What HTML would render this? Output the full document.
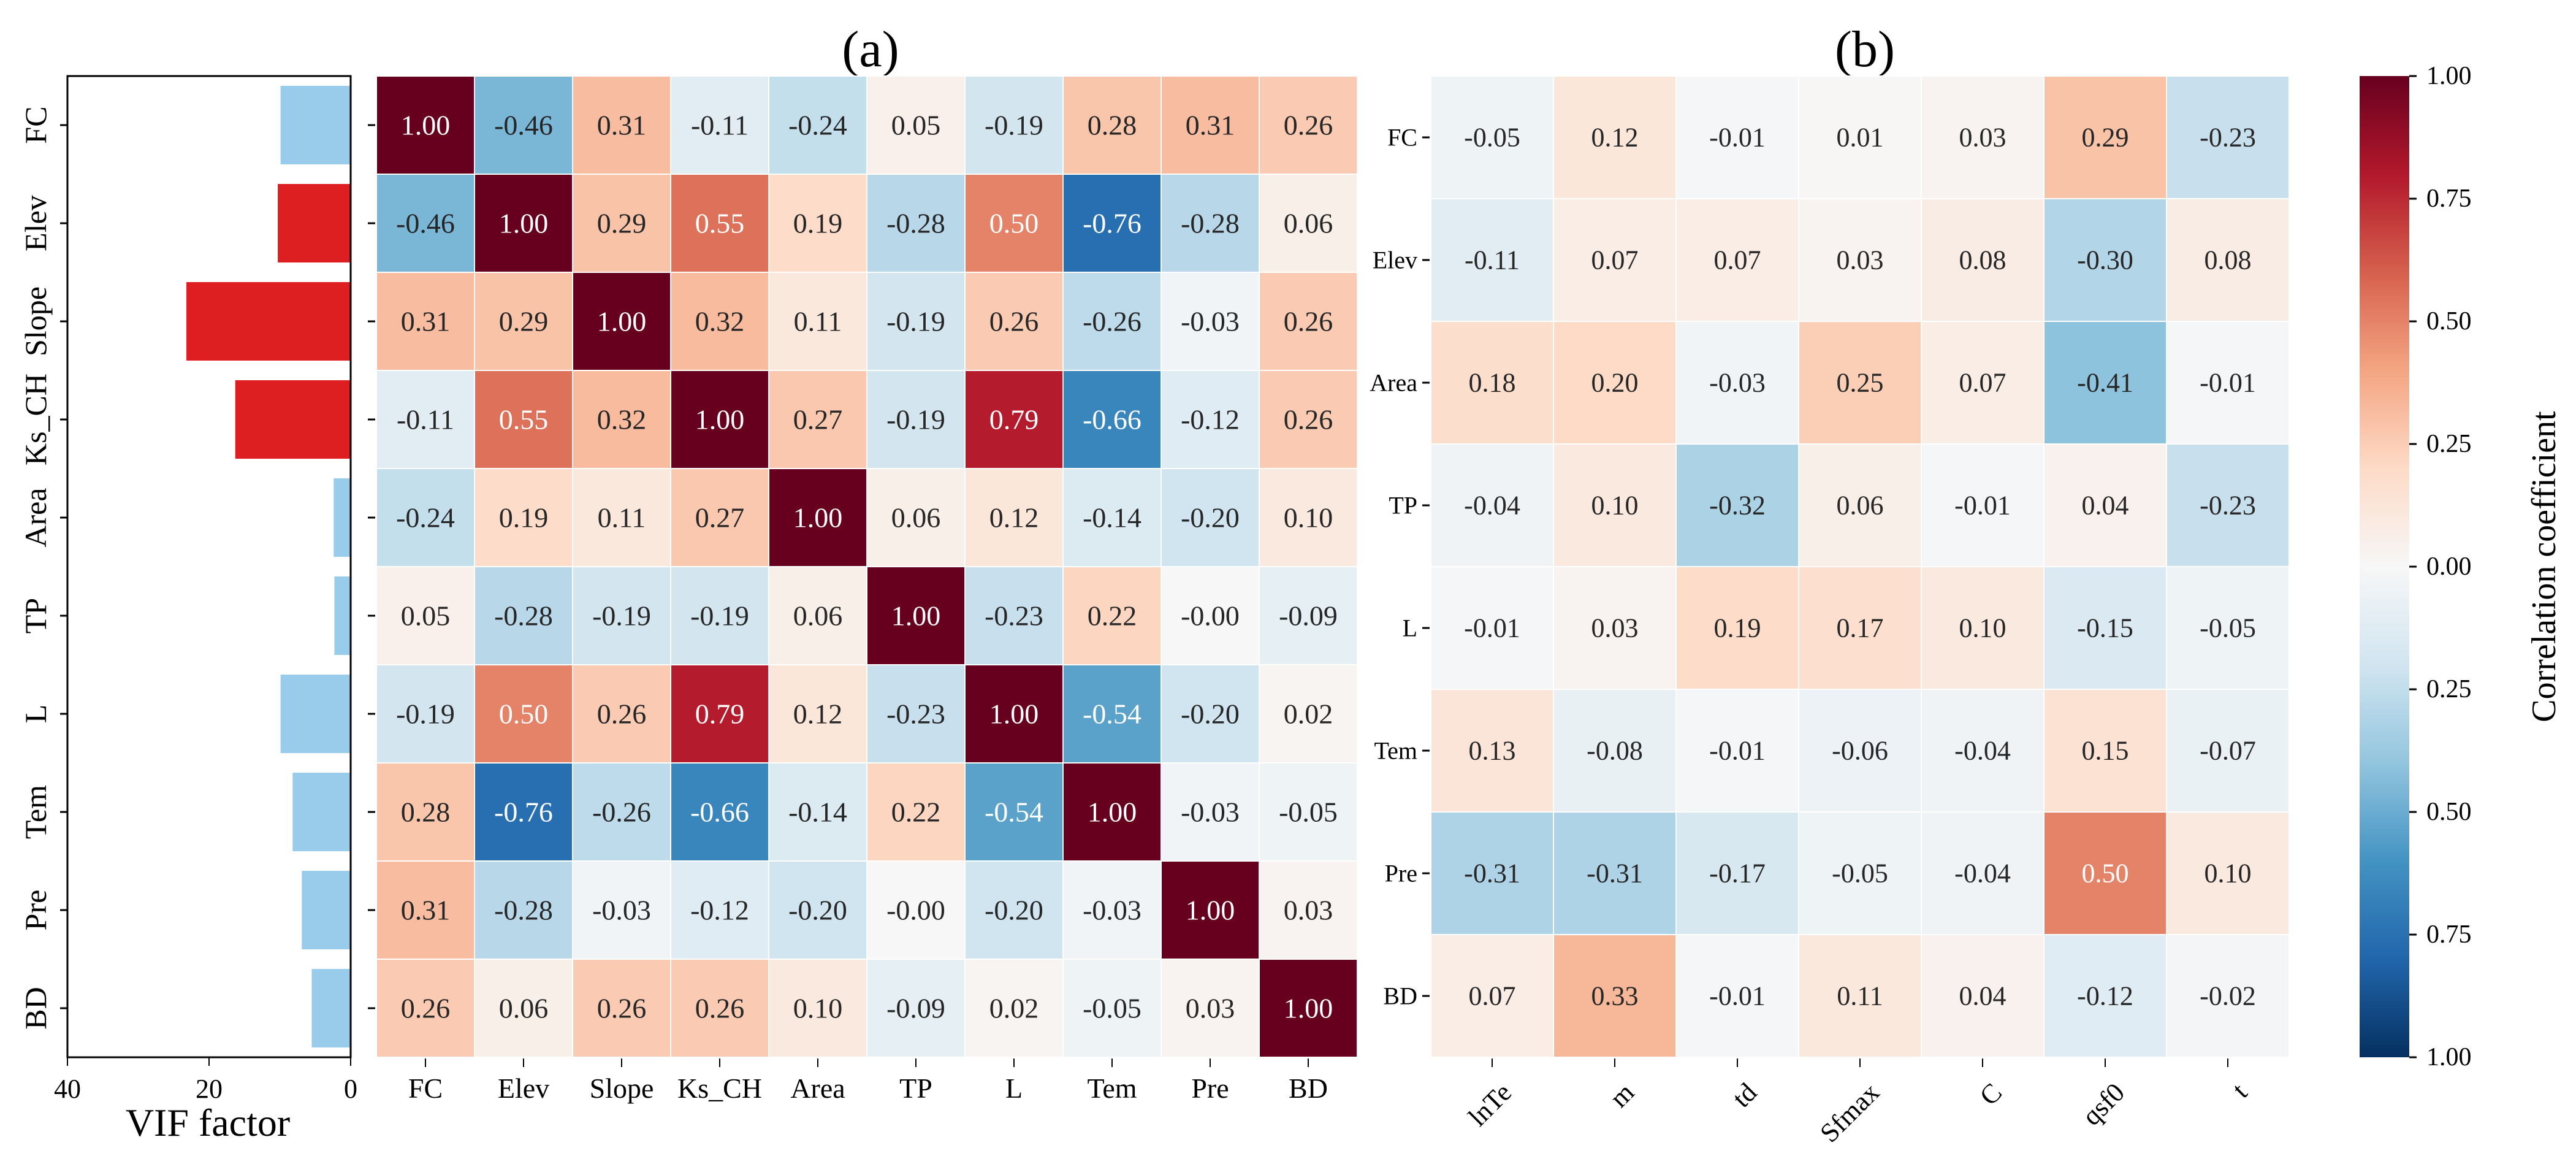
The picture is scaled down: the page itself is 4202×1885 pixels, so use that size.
<!DOCTYPE html>
<html><head><meta charset="utf-8"><style>
html,body{margin:0;padding:0;background:#fff;}
svg{display:block;font-family:"Liberation Serif",serif;}
</style></head><body>
<svg id="fig" width="4202" height="1885" viewBox="0 0 4202 1885" xmlns="http://www.w3.org/2000/svg">
<defs><linearGradient id="cbg" x1="0" y1="0" x2="0" y2="1"></linearGradient></defs>
<rect width="4202" height="1885" fill="#fff"/>
<text x="1420" y="108" font-size="84" text-anchor="middle">(a)</text>
<text x="3042" y="108" font-size="84" text-anchor="middle">(b)</text>
<g id="g"></g>
</svg>
<script>
const varsA = ["FC","Elev","Slope","Ks_CH","Area","TP","L","Tem","Pre","BD"];
const vifValues = [9.9,10.3,23.2,16.3,2.4,2.3,9.9,8.2,6.9,5.5];
const vifHigh = [false,true,true,true,false,false,false,false,false,false];
const vifTicks = [40,20,0];
const corrA = [
[1.00,-0.46,0.31,-0.11,-0.24,0.05,-0.19,0.28,0.31,0.26],
[-0.46,1.00,0.29,0.55,0.19,-0.28,0.50,-0.76,-0.28,0.06],
[0.31,0.29,1.00,0.32,0.11,-0.19,0.26,-0.26,-0.03,0.26],
[-0.11,0.55,0.32,1.00,0.27,-0.19,0.79,-0.66,-0.12,0.26],
[-0.24,0.19,0.11,0.27,1.00,0.06,0.12,-0.14,-0.20,0.10],
[0.05,-0.28,-0.19,-0.19,0.06,1.00,-0.23,0.22,-0.001,-0.09],
[-0.19,0.50,0.26,0.79,0.12,-0.23,1.00,-0.54,-0.20,0.02],
[0.28,-0.76,-0.26,-0.66,-0.14,0.22,-0.54,1.00,-0.03,-0.05],
[0.31,-0.28,-0.03,-0.12,-0.20,-0.001,-0.20,-0.03,1.00,0.03],
[0.26,0.06,0.26,0.26,0.10,-0.09,0.02,-0.05,0.03,1.00]];
const rowsB = ["FC","Elev","Area","TP","L","Tem","Pre","BD"];
const colsB = ["lnTe","m","td","Sfmax","C","qsf0","t"];
const corrB = [
[-0.05,0.12,-0.01,0.01,0.03,0.29,-0.23],
[-0.11,0.07,0.07,0.03,0.08,-0.30,0.08],
[0.18,0.20,-0.03,0.25,0.07,-0.41,-0.01],
[-0.04,0.10,-0.32,0.06,-0.01,0.04,-0.23],
[-0.01,0.03,0.19,0.17,0.10,-0.15,-0.05],
[0.13,-0.08,-0.01,-0.06,-0.04,0.15,-0.07],
[-0.31,-0.31,-0.17,-0.05,-0.04,0.50,0.10],
[0.07,0.33,-0.01,0.11,0.04,-0.12,-0.02]];
const cbTicks = [1,0.75,0.5,0.25,0,-0.25,-0.5,-0.75,-1];

const NS="http://www.w3.org/2000/svg";
const G=document.getElementById('g');
function mk(tag,at,txt,parent){const e=document.createElementNS(NS,tag);for(const k in at)e.setAttribute(k,at[k]);if(txt!==undefined)e.textContent=txt;(parent||G).appendChild(e);return e;}
const pal=["#053061","#2166ac","#4393c3","#92c5de","#d1e5f0","#f7f7f7","#fddbc7","#f4a582","#d6604d","#b2182b","#67001f"].map(h=>[1,3,5].map(i=>parseInt(h.substr(i,2),16)));
function cmap(v){let t=(Math.max(-1,Math.min(1,v))+1)/2*10;let i=Math.min(9,Math.floor(t));let f=t-i;return pal[i].map((a,k)=>Math.round(a+(pal[i+1][k]-a)*f));}
function rgb(c){return "rgb("+c.join(",")+")";}
function lum(c){const l=c.map(x=>{x/=255;return x<=0.03928?x/12.92:Math.pow((x+0.055)/1.055,2.4)});return 0.2126*l[0]+0.7152*l[1]+0.0722*l[2];}
function fmt(v){return v.toFixed(2);}

// VIF axis
const vL=110,vR=572,vT=124,vB=1724;
const vx=v=>vR-(v/40)*(vR-vL);
const rowA=160, ay=i=>vT+i*rowA;
vifValues.forEach((v,i)=>{
 const r=mk('rect',{x:vx(v),y:ay(i)+16,width:vR-vx(v),height:128,fill:vifHigh[i]?"#dd1f22":"#99cbeb"});
 
 
 const t=mk('line',{x1:vL,x2:vL-12,y1:ay(i)+80,y2:ay(i)+80,stroke:"#000","stroke-width":3});
 
 
 const cx=58,cy=ay(i)+80;
 const lb=mk('text',{x:cx,y:cy,"font-size":50,"text-anchor":"middle","dominant-baseline":"central",transform:`rotate(-90 ${cx} ${cy})`},varsA[i]);
 
 
});
const fr=mk('rect',{x:vL,y:vT,width:vR-vL,height:vB-vT,fill:"none",stroke:"#000","stroke-width":3});


vifTicks.forEach(v=>{
 const t=mk('line',{x1:vx(v),x2:vx(v),y1:vB,y2:vB+14,stroke:"#000","stroke-width":2});
 
 
 const l=mk('text',{x:vx(v),y:1790,"font-size":44,"text-anchor":"middle"},String(v));
 
 
});
const vt=mk('text',{x:339,y:1852,"font-size":64,"text-anchor":"middle"},"VIF factor");



// Heatmap A
const aL=614;
const ax=j=>aL+j*rowA;
corrA.forEach((row,i)=>row.forEach((v,j)=>{
 const c=cmap(v);
 const r=mk('rect',{x:ax(j),y:ay(i),width:rowA,height:rowA,fill:rgb(c),stroke:"#fff","stroke-width":2});
 
 
 const t=mk('text',{x:ax(j)+80,y:ay(i)+80,"font-size":46,"text-anchor":"middle","dominant-baseline":"central",fill:lum(c)<0.408?"#fff":"#262626"},fmt(v));
 
 
}));
varsA.forEach((n,i)=>{
 const t=mk('line',{x1:aL-14,x2:aL-2,y1:ay(i)+80,y2:ay(i)+80,stroke:"#000","stroke-width":3});
 
 
 const xt=mk('line',{x1:ax(i)+80,x2:ax(i)+80,y1:vB+2,y2:vB+16,stroke:"#000","stroke-width":2});
 
 
 const l=mk('text',{x:ax(i)+80,y:1790,"font-size":46,"text-anchor":"middle"},n);
 
 
});

// Heatmap B
const bL=2334,bC=200;
const bx=j=>bL+j*bC, by=i=>vT+i*bC;
corrB.forEach((row,i)=>row.forEach((v,j)=>{
 const c=cmap(v);
 const r=mk('rect',{x:bx(j),y:by(i),width:bC,height:bC,fill:rgb(c),stroke:"#fff","stroke-width":2});
 
 
 const t=mk('text',{x:bx(j)+100,y:by(i)+100,"font-size":44,"text-anchor":"middle","dominant-baseline":"central",fill:lum(c)<0.408?"#fff":"#262626"},fmt(v));
 
 
}));
rowsB.forEach((n,i)=>{
 const t=mk('line',{x1:bL-14,x2:bL-2,y1:by(i)+100,y2:by(i)+100,stroke:"#000","stroke-width":3});
 
 
 const l=mk('text',{x:bL-22,y:by(i)+100,"font-size":40,"text-anchor":"end","dominant-baseline":"central"},n);
 
 
});
colsB.forEach((n,j)=>{
 const cx=bx(j)+100;
 const t=mk('line',{x1:cx,x2:cx,y1:vB+2,y2:vB+16,stroke:"#000","stroke-width":2});
 
 
 const lx=cx+12,ly=1762;
 const l=mk('text',{x:lx,y:ly,"font-size":44,"text-anchor":"end","dominant-baseline":"hanging",transform:`rotate(-45 ${lx} ${ly})`},n);
 
 
});

// Colorbar
const cbL=3849,cbW=81;
const cy=v=>924-v*800;
const grad=document.getElementById('cbg');
for(let k=0;k<=20;k++){
 const v=1-k*0.1;
 mk('stop',{offset:(k/20),"stop-color":rgb(cmap(v))},undefined,grad);
}
const cb=mk('rect',{x:cbL,y:cy(1),width:cbW,height:1600,fill:"url(#cbg)"});


cbTicks.forEach(v=>{
 const t=mk('line',{x1:cbL+cbW,x2:cbL+cbW+12,y1:cy(v),y2:cy(v),stroke:"#000","stroke-width":3});
 
 
 const l=mk('text',{x:3958,y:cy(v),"font-size":42,"dominant-baseline":"central"},Math.abs(v).toFixed(2));
 
 
});
const ct=mk('text',{x:4150,y:924,"font-size":56,"text-anchor":"middle","dominant-baseline":"central",transform:"rotate(-90 4150 924)"},"Correlation coefficient");


</script>
</body></html>
